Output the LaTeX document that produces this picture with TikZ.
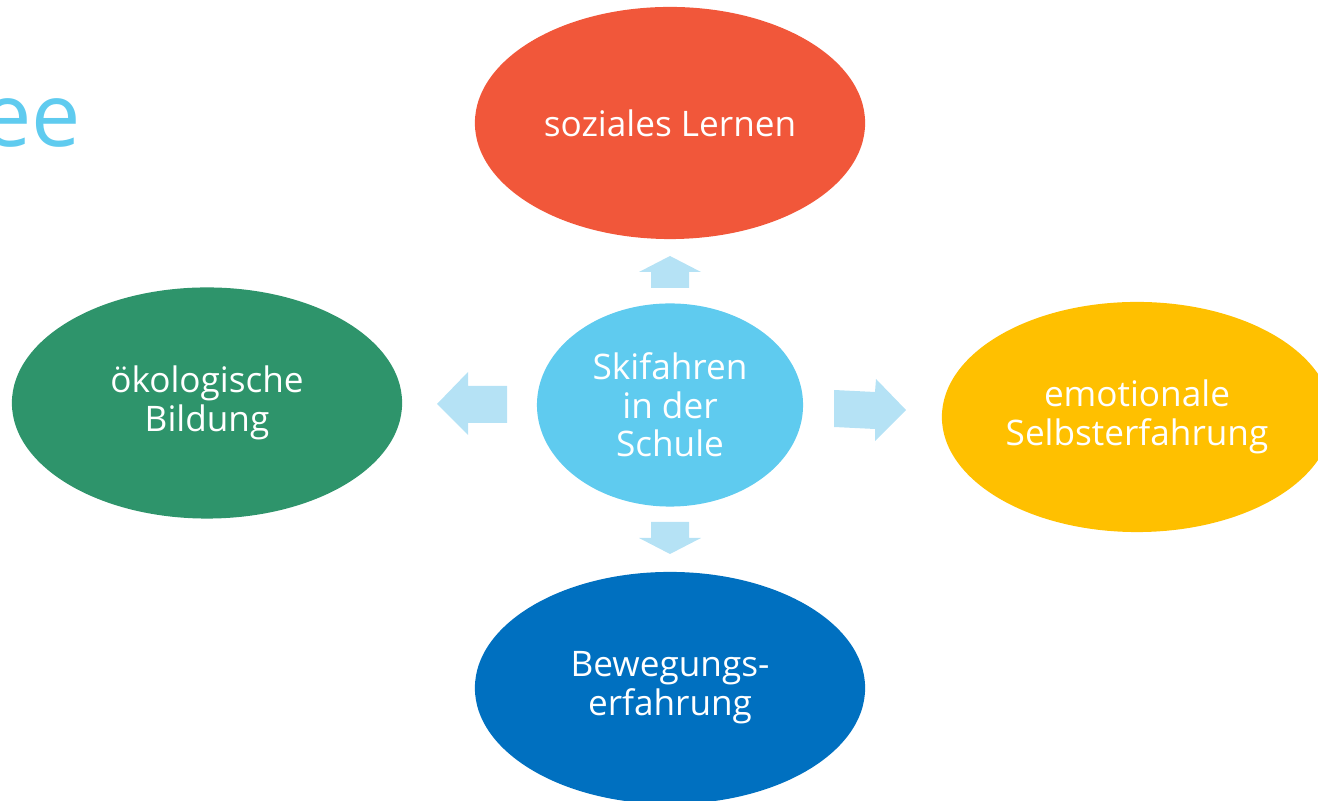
\documentclass[tikz,border=0pt]{standalone}
\usepackage{fontspec}
\setmainfont{Open Sans}
\usepackage{tikz}
\usetikzlibrary{shapes.geometric,positioning,calc}

\definecolor{rotorange}{HTML}{F1573A}
\definecolor{gruen}{HTML}{2E946B}
\definecolor{gelb}{HTML}{FFC000}
\definecolor{blau}{HTML}{0070C0}
\definecolor{hellblau}{HTML}{5FCBEF}
\definecolor{pfeilblau}{HTML}{B5E2F5}

\tikzset{
    bereich/.style={ellipse, draw=none, inner sep=0pt, minimum width=3.9cm, minimum height=2.31cm,
        text=white, align=center, font=\fontsize{10}{11}\selectfont},
    pfeil/.style={fill=pfeilblau, draw=none}
}

\begin{document}
\begin{tikzpicture}[x=0.01cm, y=-0.01cm]
    \useasboundingbox (0,0) rectangle (1318,801);
    \clip (0,0) rectangle (1318,801);

    % Titel (abgeschnitten)
    \node[anchor=base east, inner sep=0pt, text=hellblau, font=\fontsize{25}{30}\selectfont] (titel) at (82,147) {ee};

    % Bereiche
    \node[bereich, fill=rotorange, minimum height=2.32cm] (sozial) at (670,123) {soziales Lernen};
    \node[bereich, fill=gruen] (oeko) at (207,403) {ökologische\\Bildung};
    \node[bereich, fill=gelb, minimum height=2.30cm] (emotion) at (1137,417) {emotionale\\Selbsterfahrung};
    \node[bereich, fill=blau, minimum height=2.32cm] (bewegung) at (670,688) {Bewegungs-\\erfahrung};

    % Mitte
    \node[bereich, fill=hellblau, minimum width=2.66cm, minimum height=2.03cm] (ski) at (670,405) {Skifahren\\in der\\Schule};

    % Pfeile
    \fill[pfeil] (651,288) -- (651,272) -- (639,272) -- (670,256) -- (701,272) -- (689,272) -- (689,288) -- cycle;
    \fill[pfeil] (651,522) -- (651,538) -- (639,538) -- (670,554) -- (701,538) -- (689,538) -- (689,522) -- cycle;
    \fill[pfeil] (507,386) -- (468,386) -- (468,372) -- (437,404) -- (468,435) -- (468,423) -- (507,423) -- cycle;
    \fill[pfeil] (834,390) -- (875,392) -- (876,379) -- (906,410) -- (875,441) -- (875,429) -- (834,427) -- cycle;
\end{tikzpicture}
\end{document}
